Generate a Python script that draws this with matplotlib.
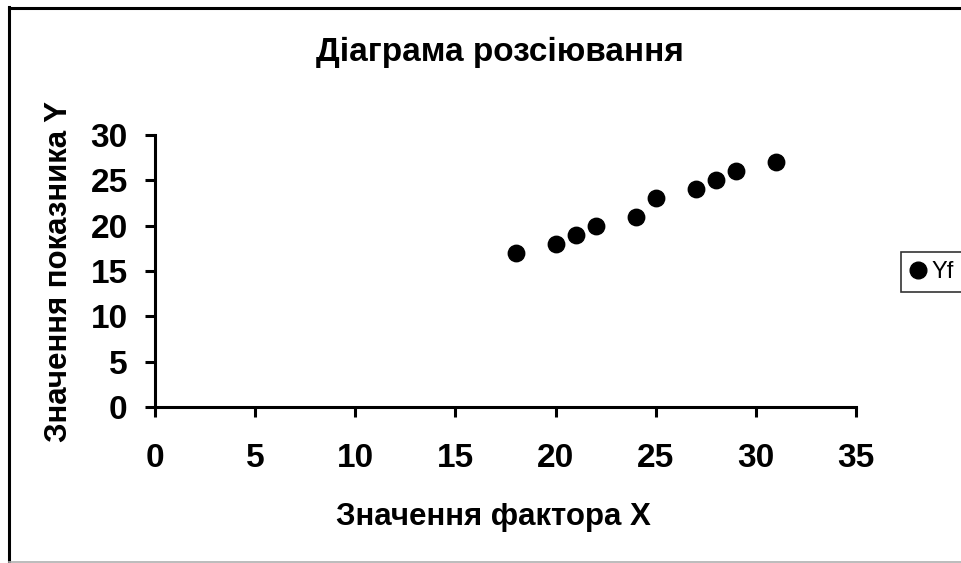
import matplotlib
matplotlib.use("Agg")
import matplotlib.pyplot as plt
from matplotlib.lines import Line2D

x_values = [18, 20, 21, 22, 24, 25, 27, 28, 29, 31]
y_values = [17, 18, 19, 20, 21, 23, 24, 25, 26, 27]
x_ticks = [0, 5, 10, 15, 20, 25, 30, 35]
y_ticks = [0, 5, 10, 15, 20, 25, 30]
series_name = "Yf"
title = "Діаграма розсіювання"
x_label = "Значення фактора X"
y_label = "Значення показника Y"

plt.rcParams['font.family'] = ['Liberation Sans', 'DejaVu Sans']

W, H = 961, 563
fig = plt.figure(figsize=(W / 100, H / 100), dpi=100)

# outer chart frame
fig.add_artist(Line2D([9 / W, 9 / W], [1 - 7 / H, 1 - 562 / H], transform=fig.transFigure,
                      color='black', lw=2.2))
fig.add_artist(Line2D([9 / W, 1.0], [1 - 7.5 / H, 1 - 7.5 / H], transform=fig.transFigure,
                      color='black', lw=2.2))
fig.add_artist(Line2D([9 / W, 1.0], [1 - 562 / H, 1 - 562 / H], transform=fig.transFigure,
                      color='#b0b0b0', lw=1.2))

left, right, top, bottom = 155, 856, 135, 407
ax = fig.add_axes([left / W, 1 - bottom / H, (right - left) / W, (bottom - top) / H])
ax.scatter(x_values, y_values, s=140, color='black', zorder=3, label=series_name, clip_on=False)
ax.set_xlim(0, 35)
ax.set_ylim(0, 30)
ax.set_xticks(x_ticks)
ax.set_yticks(y_ticks)
ax.spines['top'].set_visible(False)
ax.spines['right'].set_visible(False)
for s in ['left', 'bottom']:
    ax.spines[s].set_linewidth(2.2)
ax.tick_params(axis='both', direction='out', length=7.2, width=2.2, labelsize=24)
for lab in ax.get_xticklabels() + ax.get_yticklabels():
    lab.set_fontweight('bold')
ax.tick_params(axis='x', pad=19)
ax.tick_params(axis='y', pad=12.5)

fig.text(500 / W, 1 - 52 / H, title, ha='center', va='center', fontsize=24, fontweight='bold')
fig.text(493 / W, 1 - 517 / H, x_label, ha='center', va='center', fontsize=22.5, fontweight='bold')
fig.text(59 / W, 1 - 272 / H, y_label, ha='center', va='center', fontsize=22.5, fontweight='bold',
         rotation=90)

leg = fig.legend(handles=[Line2D([], [], marker='o', ls='none', color='black', markersize=12)],
                 labels=[series_name], loc='center left', bbox_to_anchor=(901 / W, 1 - 272 / H),
                 bbox_transform=fig.transFigure, frameon=True, fancybox=False,
                 fontsize=17, handlelength=0.6, handletextpad=0.3, borderpad=0.4,
                 borderaxespad=0)
leg.get_frame().set_edgecolor('black')
leg.get_frame().set_linewidth(1.2)

fig.savefig("out.png", dpi=100)
